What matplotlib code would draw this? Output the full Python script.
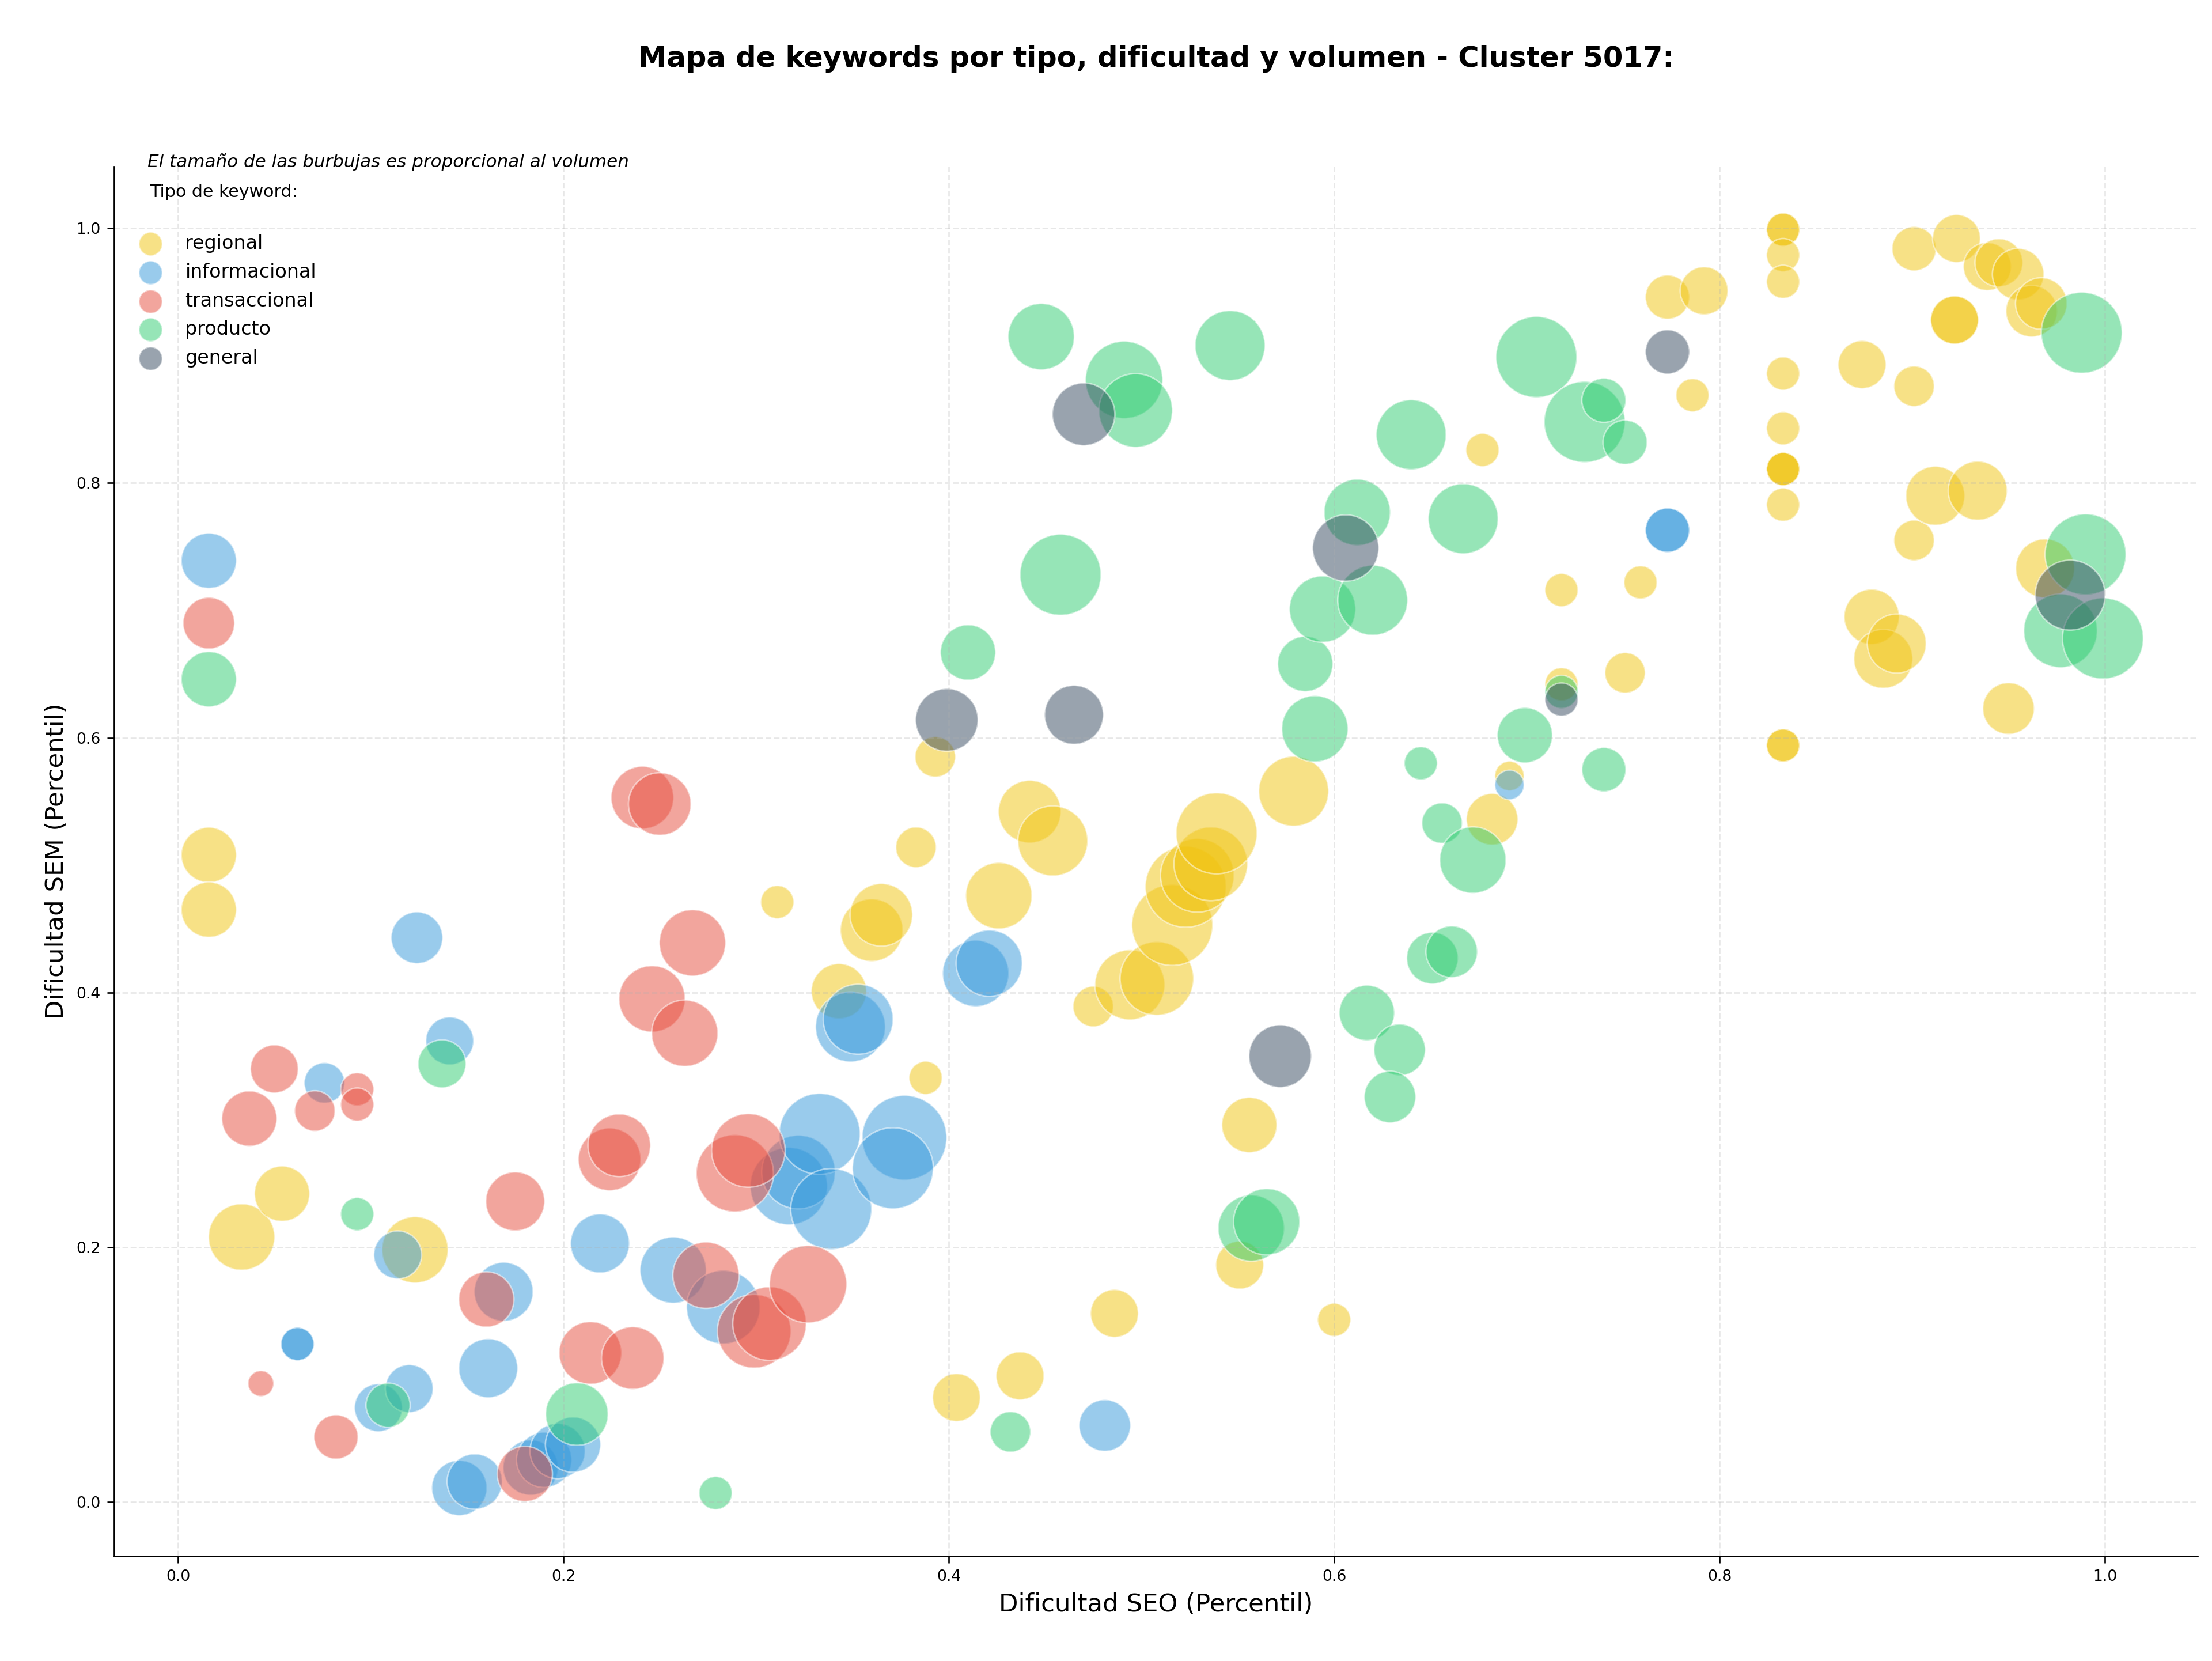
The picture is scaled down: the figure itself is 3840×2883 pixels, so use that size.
import matplotlib
matplotlib.use('Agg')
import matplotlib.pyplot as plt
import numpy as np

#%% Datos: dificultad SEO, dificultad SEM y volumen por tipo
tipos = ['regional', 'informacional', 'transaccional', 'producto', 'general']
colores = ['#F1C40F', '#3498DB', '#E74C3C', '#2ECC71', '#34495E']

regional_seo = [0.016, 0.016, 0.033, 0.054, 0.123, 0.311, 0.343, 0.360, 0.365, 0.388,
                0.383, 0.393, 0.404, 0.437, 0.426, 0.442, 0.454, 0.475, 0.486, 0.494,
                0.508, 0.516, 0.523, 0.529, 0.536, 0.539, 0.556, 0.551, 0.579, 0.600,
                0.677, 0.682, 0.691, 0.718, 0.718, 0.751, 0.759, 0.773, 0.792, 0.786,
                0.833, 0.833, 0.833, 0.833, 0.833, 0.833, 0.833, 0.833, 0.833, 0.833, 0.833, 0.833,
                0.874, 0.901, 0.923, 0.901, 0.922, 0.922, 0.939, 0.945, 0.955, 0.962, 0.967,
                0.901, 0.912, 0.934, 0.879, 0.885, 0.892, 0.969, 0.950]
regional_sem = [0.508, 0.465, 0.208, 0.242, 0.198, 0.471, 0.401, 0.449, 0.461, 0.333,
                0.514, 0.585, 0.082, 0.099, 0.476, 0.542, 0.519, 0.389, 0.148, 0.406,
                0.411, 0.453, 0.483, 0.492, 0.501, 0.525, 0.296, 0.186, 0.558, 0.143,
                0.826, 0.536, 0.570, 0.716, 0.642, 0.651, 0.722, 0.946, 0.951, 0.869,
                0.999, 0.999, 0.979, 0.958, 0.886, 0.843, 0.811, 0.811, 0.811, 0.783, 0.594, 0.594,
                0.893, 0.984, 0.992, 0.876, 0.928, 0.928, 0.970, 0.973, 0.964, 0.935, 0.941,
                0.755, 0.790, 0.794, 0.695, 0.662, 0.674, 0.733, 0.623]
regional_vol = [486, 486, 700, 486, 700, 175, 486, 624, 624, 175,
                261, 261, 365, 365, 700, 624, 779, 261, 365, 779,
                864, 1045, 1045, 864, 864, 1045, 486, 365, 779, 175,
                175, 423, 138, 175, 175, 261, 175, 311, 365, 175,
                175, 175, 175, 175, 175, 175, 175, 175, 175, 175, 175, 175,
                365, 311, 365, 261, 365, 365, 365, 365, 423, 423, 423,
                261, 553, 553, 486, 553, 553, 553, 423]

informacional_seo = [0.016, 0.124, 0.076, 0.141, 0.114, 0.062, 0.062, 0.104, 0.120, 0.161,
                     0.169, 0.219, 0.257, 0.283, 0.146, 0.154, 0.183, 0.190, 0.197, 0.205,
                     0.317, 0.322, 0.333, 0.339, 0.377, 0.371, 0.349, 0.353, 0.414, 0.421,
                     0.481, 0.773, 0.773, 0.691]
informacional_sem = [0.739, 0.443, 0.329, 0.362, 0.194, 0.124, 0.124, 0.074, 0.089, 0.105,
                     0.165, 0.203, 0.182, 0.153, 0.011, 0.016, 0.027, 0.033, 0.040, 0.045,
                     0.248, 0.259, 0.289, 0.230, 0.286, 0.262, 0.373, 0.379, 0.415, 0.423,
                     0.060, 0.763, 0.763, 0.563]
informacional_vol = [486, 423, 261, 365, 365, 175, 175, 365, 365, 553,
                     553, 553, 700, 864, 486, 486, 486, 486, 486, 486,
                     952, 864, 1045, 1045, 1142, 1045, 779, 779, 700, 700,
                     423, 311, 311, 138]

transaccional_seo = [0.016, 0.050, 0.037, 0.071, 0.093, 0.093, 0.043, 0.082, 0.160, 0.175,
                     0.180, 0.214, 0.236, 0.224, 0.229, 0.241, 0.250, 0.246, 0.263, 0.267,
                     0.274, 0.289, 0.296, 0.299, 0.307, 0.327]
transaccional_sem = [0.690, 0.340, 0.301, 0.307, 0.324, 0.312, 0.093, 0.051, 0.159, 0.236,
                     0.022, 0.117, 0.113, 0.269, 0.280, 0.553, 0.548, 0.395, 0.368, 0.439,
                     0.178, 0.258, 0.276, 0.134, 0.140, 0.171]
transaccional_vol = [423, 365, 486, 261, 175, 175, 106, 311, 486, 553,
                     486, 624, 624, 624, 624, 624, 624, 700, 700, 700,
                     700, 952, 864, 864, 864, 952]

producto_seo = [0.016, 0.093, 0.109, 0.137, 0.207, 0.279, 0.432, 0.410, 0.448, 0.491,
                0.497, 0.458, 0.546, 0.585, 0.594, 0.590, 0.612, 0.620, 0.617, 0.634,
                0.629, 0.557, 0.565, 0.640, 0.645, 0.656, 0.651, 0.661, 0.667, 0.672,
                0.699, 0.705, 0.730, 0.740, 0.751, 0.740, 0.718, 0.988, 0.990, 0.977, 0.999]
producto_sem = [0.646, 0.226, 0.076, 0.344, 0.069, 0.007, 0.055, 0.667, 0.915, 0.881,
                0.857, 0.728, 0.908, 0.658, 0.701, 0.607, 0.777, 0.708, 0.384, 0.355,
                0.318, 0.215, 0.220, 0.838, 0.580, 0.533, 0.427, 0.432, 0.772, 0.504,
                0.602, 0.899, 0.848, 0.865, 0.832, 0.575, 0.636, 0.918, 0.744, 0.684, 0.678]
producto_vol = [486, 175, 311, 365, 624, 175, 261, 486, 700, 952,
                864, 1045, 779, 486, 700, 700, 700, 779, 486, 423,
                423, 700, 700, 779, 175, 261, 423, 423, 779, 700,
                486, 1045, 1045, 311, 311, 311, 175, 1045, 1045, 864, 1045]

general_seo = [0.470, 0.399, 0.465, 0.606, 0.572, 0.773, 0.718, 0.982]
general_sem = [0.854, 0.614, 0.618, 0.749, 0.350, 0.903, 0.630, 0.712]
general_vol = [624, 624, 553, 700, 624, 311, 175, 779]

datos = {
    'regional': (regional_seo, regional_sem, regional_vol),
    'informacional': (informacional_seo, informacional_sem, informacional_vol),
    'transaccional': (transaccional_seo, transaccional_sem, transaccional_vol),
    'producto': (producto_seo, producto_sem, producto_vol),
    'general': (general_seo, general_sem, general_vol),
}

escala_burbuja = 1.7  # volumen -> area del marcador (pt^2)

#%% Figura
fig, ax = plt.subplots(figsize=(16, 12.0125), dpi=240)
fig.subplots_adjust(left=0.0516, right=0.9935, bottom=0.0631, top=0.8998)

for tipo, color in zip(tipos, colores):
    seo, sem, vol = datos[tipo]
    ax.scatter(seo, sem, s=np.array(vol) * escala_burbuja, c=color, alpha=0.5,
               edgecolors='white', linewidths=0.8, label=tipo)

ax.set_xlabel('Dificultad SEO (Percentil)', fontsize=13)
ax.set_ylabel('Dificultad SEM (Percentil)', fontsize=13)
ax.tick_params(labelsize=8)
ax.grid(True, linestyle='--', alpha=0.3)
ax.spines['top'].set_visible(False)
ax.spines['right'].set_visible(False)

#   titulo centrado con una linea vacia debajo
leg = ax.legend(title='Tipo de keyword:\n', loc='upper left', frameon=False,
                fontsize=10, title_fontsize=9)
leg.get_title().set_linespacing(1.55)
for h in leg.legend_handles:
    h.set_sizes([150])

ax.text(0.016, 0.997, 'El tamaño de las burbujas es proporcional al volumen',
        transform=ax.transAxes, fontsize=9.3, style='italic', va='bottom', ha='left')

fig.suptitle('Mapa de keywords por tipo, dificultad y volumen - Cluster 5017:',
             fontsize=14.9, fontweight='bold', x=0.5226, y=0.973)

fig.savefig('out.png', dpi=240)
